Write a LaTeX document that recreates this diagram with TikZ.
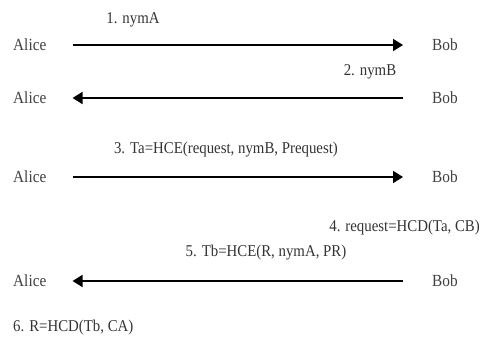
\documentclass[tikz,border=0pt]{standalone}
\usepackage{fontspec}
\setmainfont[FakeStretch=0.9]{Liberation Serif}
\usetikzlibrary{arrows.meta}

\tikzset{
  party/.style={anchor=west, inner sep=0pt, font=\fontsize{17}{19}\selectfont, text=black!75},
  lbl/.style={inner sep=0pt, font=\fontsize{16.5}{19}\selectfont, text=black!80},
  msg/.style={line width=1.8pt, -{Triangle[length=10pt,width=12pt]}}
}

\begin{document}
\begin{tikzpicture}[x=1pt, y=-1pt]
    \useasboundingbox (0,0) rectangle (481,339);

    % Step 1: Alice -> Bob
    \node[party] (alice1) at (13,45) {Alice};
    \node[party] (bob1) at (432,45) {Bob};
    \node[lbl] (m1) at (133,20) {1. nymA};
    \draw[msg, shorten <=26pt, shorten >=29pt] (alice1.east) -- (bob1.west);

    % Step 2: Bob -> Alice
    \node[party] (alice2) at (13,98) {Alice};
    \node[party] (bob2) at (432,98) {Bob};
    \node[lbl] (m2) at (370,72) {2. nymB};
    \draw[msg, shorten <=29pt, shorten >=26pt] (bob2.west) -- (alice2.east);

    % Step 3: Alice -> Bob
    \node[party] (alice3) at (13,177) {Alice};
    \node[party] (bob3) at (432,177) {Bob};
    \node[lbl] (m3) at (226,150) {3. Ta=HCE(request, nymB, Prequest)};
    \draw[msg, shorten <=26pt, shorten >=29pt] (alice3.east) -- (bob3.west);

    % Step 4 and 5: Bob -> Alice
    \node[lbl, anchor=east] (m4) at (480,228) {4. request=HCD(Ta, CB)};
    \node[party] (alice4) at (13,281) {Alice};
    \node[party] (bob4) at (432,281) {Bob};
    \node[lbl] (m5) at (266,253) {5. Tb=HCE(R, nymA, PR)};
    \draw[msg, shorten <=29pt, shorten >=26pt] (bob4.west) -- (alice4.east);

    % Step 6
    \node[lbl, anchor=west] (m6) at (13,328) {6. R=HCD(Tb, CA)};
\end{tikzpicture}
\end{document}
